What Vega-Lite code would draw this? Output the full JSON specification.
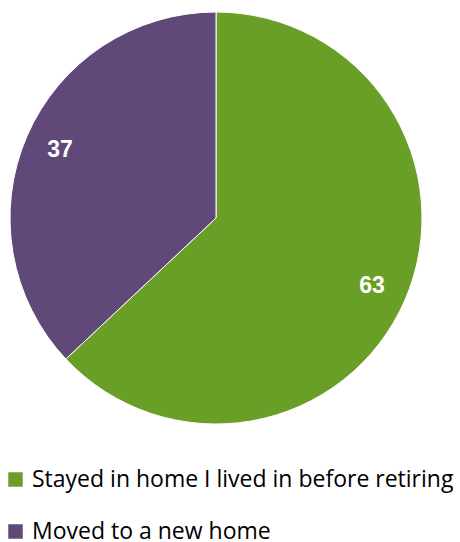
{
  "$schema": "https://vega.github.io/schema/vega-lite/v6.json",
  "width": 432,
  "height": 436,
  "padding": 0,
  "background": "white",
  "config": {"view": {"stroke": null}},
  "data": {"values": [
    {"category": "Stayed in home I lived in before retiring", "value": 63, "order": 1},
    {"category": "Moved to a new home", "value": 37, "order": 2}
  ]},
  "encoding": {
    "theta": {"field": "value", "type": "quantitative", "stack": true},
    "order": {"field": "order", "type": "quantitative"},
    "color": {
      "field": "category", "type": "nominal",
      "sort": ["Stayed in home I lived in before retiring", "Moved to a new home"],
      "scale": {"domain": ["Stayed in home I lived in before retiring", "Moved to a new home"], "range": ["#6A9F27", "#604878"]},
      "legend": {
        "title": null, "orient": "none", "legendX": 4, "legendY": 468,
        "direction": "vertical",
        "symbolType": "square", "symbolSize": 210, "symbolStrokeWidth": 0,
        "labelFont": "Open Sans", "labelFontSize": 23, "labelColor": "#000000",
        "labelLimit": 0, "labelOffset": 5, "rowPadding": 28
      }
    }
  },
  "layer": [
    {"mark": {"type": "arc", "outerRadius": 206, "stroke": "white", "strokeWidth": 1}},
    {
      "mark": {"type": "text", "radius": 170, "baseline": "middle", "font": "Liberation Sans", "fontSize": 23, "fontWeight": "bold", "fill": "white"},
      "encoding": {"text": {"field": "value", "type": "quantitative"}, "color": {"value": "white"}}
    }
  ]
}
